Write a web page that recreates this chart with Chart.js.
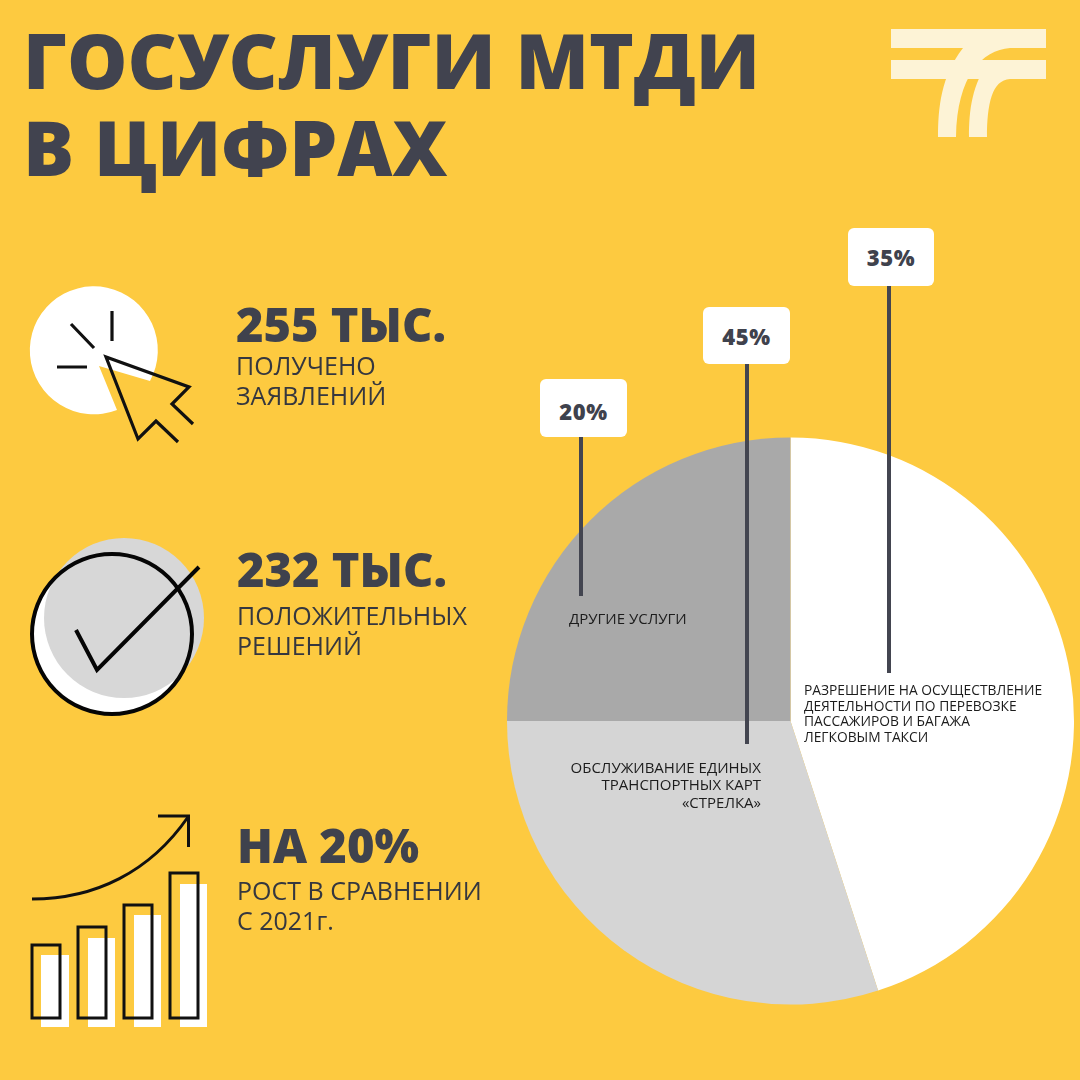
<!DOCTYPE html>
<html lang="ru"><head><meta charset="utf-8">
<script src="https://cdn.jsdelivr.net/npm/chart.js@4"></script>
<style>
html,body{margin:0;padding:0;background:#FDCA40;}
#stage{position:relative;width:1080px;height:1080px;overflow:hidden;background:#FDCA40;font-family:"Open Sans",sans-serif;color:#3F424D;}
#stage canvas{position:absolute;left:0;top:0;}
svg{position:absolute;left:0;top:0;}
.t{position:absolute;white-space:pre;line-height:1;}
.leader{position:absolute;background:#434550;width:4px;}
.box{position:absolute;background:#fff;border-radius:6px;text-align:center;font-weight:800;font-size:22px;letter-spacing:.6px;color:#3F424D;}
</style></head><body>
<div id="stage">
<canvas id="pie" width="1080" height="1080"></canvas>
<svg width="1080" height="1080" viewBox="0 0 1080 1080" fill="none">
  <g fill="#FDF3D6">
    <rect x="891" y="29" width="155" height="19"/><rect x="891" y="60" width="155" height="19"/>
    <path d="M938 137C938 108 941 76 963 48L1010 48C982 50 957 76 956 137Z"/>
    <path d="M969 137C969 110 972 84 990 60L1010 79C992 80 987 104 987 137Z"/>
  </g>
  <path d="M99 366L150 381A64 64 0 1 0 117 410Z" fill="#fff"/>
  <g stroke="#111" stroke-width="3.2" stroke-linejoin="miter">
    <path d="M112 311V341M71 324L94 348M57 367H87"/>
    <path d="M193 424L172 404L189 387L106 357L138 439L156 421L178 442"/>
  </g>
  <circle cx="112" cy="634" r="80" fill="#fff"/>
  <circle cx="124" cy="618" r="80" fill="#D7D7D7"/>
  <circle cx="112" cy="634" r="80" stroke="#050505" stroke-width="4"/>
  <path d="M76 630L97 670L199 567" stroke="#050505" stroke-width="4"/>
  <g fill="#fff">
    <rect x="41" y="955" width="28" height="72"/><rect x="88" y="938" width="27" height="89"/>
    <rect x="134" y="915" width="27" height="112"/><rect x="180" y="884" width="27" height="143"/>
  </g>
  <g stroke="#111" stroke-width="3">
    <rect x="32" y="945" width="28" height="73"/><rect x="78" y="927" width="28" height="91"/>
    <rect x="124" y="905" width="28" height="113"/><rect x="170" y="873" width="28" height="145"/>
    <path d="M32 899C95 899 150 872 188 817"/><path d="M158 816H188.500V847"/>
  </g>
</svg>
</div>
<script>
const categories=["Разрешение на осуществление деятельности по перевозке пассажиров и багажа легковым такси","Обслуживание единых транспортных карт «Стрелка»","Другие услуги"];
const sliceValues=[45,30,25];
const sliceColors=["#FFFFFF","#D5D5D5","#A9A9A9"];
const calloutLabels=["35%","45%","20%"];
const titleLines=["ГОСУСЛУГИ МТДИ","В ЦИФРАХ"];
const statHeads=["255 ТЫС.","232 ТЫС.","НА 20%"];
const statNotes=["ПОЛУЧЕНО\nЗАЯВЛЕНИЙ","ПОЛОЖИТЕЛЬНЫХ\nРЕШЕНИЙ","РОСТ В СРАВНЕНИИ\nС 2021г."];
const sliceNotes=["РАЗРЕШЕНИЕ НА ОСУЩЕСТВЛЕНИЕ\nДЕЯТЕЛЬНОСТИ ПО ПЕРЕВОЗКЕ\nПАССАЖИРОВ И БАГАЖА\nЛЕГКОВЫМ ТАКСИ","ОБСЛУЖИВАНИЕ ЕДИНЫХ\nТРАНСПОРТНЫХ КАРТ\n«СТРЕЛКА»","ДРУГИЕ УСЛУГИ"];

new Chart(document.getElementById('pie'),{
  type:'pie',
  data:{labels:categories,datasets:[{data:sliceValues,backgroundColor:sliceColors,borderWidth:0}]},
  options:{responsive:false,animation:false,devicePixelRatio:1,
    layout:{padding:{left:507,top:437,right:6,bottom:75}},
    plugins:{legend:{display:false},tooltip:{enabled:false}}}
});

const stage=document.getElementById('stage');
function text(str,x,y,size,weight,lh,extra){
  const d=document.createElement('div');d.className='t';d.textContent=str;
  d.style.cssText+=`left:${x}px;top:${y}px;font-size:${size}px;font-weight:${weight};line-height:${lh}px;`+(extra||'');
  stage.appendChild(d);return d;
}
text(titleLines[0],23,9.5,76,800,100,'color:#41434F;');
text(titleLines[1],23,96.5,76,800,100,'color:#41434F;');
const heads=[[236,294],[237,539],[237,815]];
statHeads.forEach((s,i)=>text(s,heads[i][0],heads[i][1],47,800,60));
const notes=[[236,350],[237,600],[237,875]];
statNotes.forEach((s,i)=>text(s,notes[i][0],notes[i][1],25,400,30,'color:#35373F;'));
text(sliceNotes[0],804,682,13.8,400,15.7,'color:#1c1c1c;');
text(sliceNotes[1],0,759,15,400,17.3,'color:#1c1c1c;left:auto;right:319px;text-align:right;');
text(sliceNotes[2],569,610,15,400,17,'color:#1c1c1c;');
[[889,286,387],[746.5,364,380],[581,437,159]].forEach(l=>{
  const d=document.createElement('div');d.className='leader';
  d.style.cssText+=`left:${l[0]-2}px;top:${l[1]}px;height:${l[2]}px;`;stage.appendChild(d);
});
[[848,228,86,58,0],[703,307,87,57,1],[540,379,87,58,3]].forEach((b,i)=>{
  const d=document.createElement('div');d.className='box';d.textContent=calloutLabels[i];
  d.style.cssText+=`left:${b[0]}px;top:${b[1]}px;width:${b[2]}px;height:${b[3]}px;line-height:${b[3]+2*b[4]}px;`;stage.appendChild(d);
});
</script>
</body></html>
